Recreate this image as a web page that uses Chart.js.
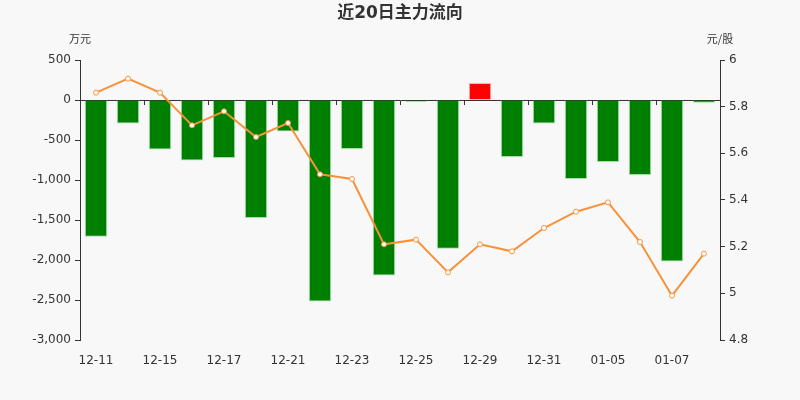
<!DOCTYPE html>
<html lang="zh">
<head>
  <meta charset="UTF-8">
  <title>近20日主力流向</title>
  <script src="https://cdn.jsdelivr.net/npm/chart.js"></script>
  <style>
    html, body { margin: 0; padding: 0; background: #f8f8f8; }
    #wrap { width: 800px; height: 400px; }
  </style>
</head>
<body>
  <div id="wrap"><canvas id="flowChart"></canvas></div>
  <script>
    // data
    const days = ['12-11', '12-14', '12-15', '12-16', '12-17', '12-18', '12-21', '12-22', '12-23', '12-24',
      '12-25', '12-28', '12-29', '12-30', '12-31', '01-04', '01-05', '01-06', '01-07', '01-08'];
    const netFlow = [-1710, -295, -620, -755, -725, -1475, -395, -2520, -612, -2195,
      -22, -1860, 212, -712, -295, -987, -775, -937, -2020, -35];   // 万元
    const closePrice = [5.86, 5.92, 5.86, 5.72, 5.78, 5.67, 5.73, 5.51, 5.49, 5.21,
      5.23, 5.09, 5.21, 5.18, 5.28, 5.35, 5.39, 5.22, 4.99, 5.17];  // 元/股

    const txt = '#333';
    const font = { family: "'DejaVu Sans', 'Noto Sans CJK SC', sans-serif", size: 12 };

    // title and unit labels
    const decor = {
      id: 'decor',
      afterDraw(chart) {
        const c = chart.ctx, a = chart.chartArea;
        c.save();
        c.fillStyle = txt;
        c.textBaseline = 'middle';
        c.textAlign = 'center';
        c.font = "bold 17px 'DejaVu Sans', 'Noto Sans CJK SC', sans-serif";
        c.fillText('近20日主力流向', chart.width / 2, 14);
        c.font = "11px 'Noto Sans CJK SC', sans-serif";
        c.fillText('万元', a.left, 39);
        c.fillText('元/股', a.right, 39);
        c.restore();
      }
    };

    new Chart(document.getElementById('flowChart'), {
      data: {
        labels: days,
        datasets: [{
          type: 'line',
          label: '股价',
          data: closePrice,
          yAxisID: 'y1',
          xAxisID: 'x',
          borderColor: '#f7923a',
          borderWidth: 2,
          pointRadius: 2.5,
          pointBackgroundColor: '#fff',
          pointBorderColor: '#f7923a',
          pointBorderWidth: 1,
          tension: 0,
          order: 0
        }, {
          type: 'bar',
          label: '主力净流入',
          data: netFlow,
          yAxisID: 'y',
          xAxisID: 'x',
          backgroundColor: netFlow.map(v => v >= 0 ? '#ff0000' : '#008000'),
          borderColor: netFlow.map(v => v >= 0 ? '#ffb0b0' : '#a8dca8'),
          borderWidth: 1,
          barPercentage: 0.7,
          categoryPercentage: 1,
          order: 1
        }]
      },
      options: {
        responsive: true,
        maintainAspectRatio: false,
        animation: false,
        layout: { padding: { top: 60, left: 0, right: 0, bottom: 0 } },
        plugins: {
          legend: { display: false },
          title: { display: false },
          tooltip: { enabled: false }
        },
        scales: {
          x: {
            type: 'category',
            position: { y: 0 },
            offset: true,
            ticks: { display: false },
            grid: {
              offset: true,
              drawOnChartArea: false,
              tickLength: 4,
              color: ctx => (ctx.index % 2 === 0 && ctx.index > 0) ? txt : 'rgba(0,0,0,0)'
            },
            border: { display: true, color: txt, width: 1 }
          },
          x2: {
            type: 'category',
            position: 'bottom',
            labels: days,
            offset: true,
            afterFit: s => { s.height = 60; },
            ticks: {
              color: txt,
              font: font,
              padding: 6,
              autoSkip: false,
              maxRotation: 0,
              callback: function (v, i) { return i % 2 === 0 ? days[i] : ''; }
            },
            grid: { display: false },
            border: { display: false }
          },
          y: {
            position: 'left',
            min: -3000,
            max: 500,
            afterFit: s => { s.width = 80; },
            ticks: { stepSize: 500, color: txt, font: font, padding: 4 },
            grid: { drawOnChartArea: false, tickLength: 5, color: txt },
            border: { display: true, color: txt }
          },
          y1: {
            position: 'right',
            min: 4.8,
            max: 6,
            afterFit: s => { s.width = 80; },
            ticks: {
              stepSize: 0.2, color: txt, font: font, padding: 4,
              callback: v => String(Math.round(v * 10) / 10)
            },
            grid: { drawOnChartArea: false, tickLength: 5, color: txt },
            border: { display: true, color: txt }
          }
        }
      },
      plugins: [decor]
    });
  </script>
</body>
</html>
